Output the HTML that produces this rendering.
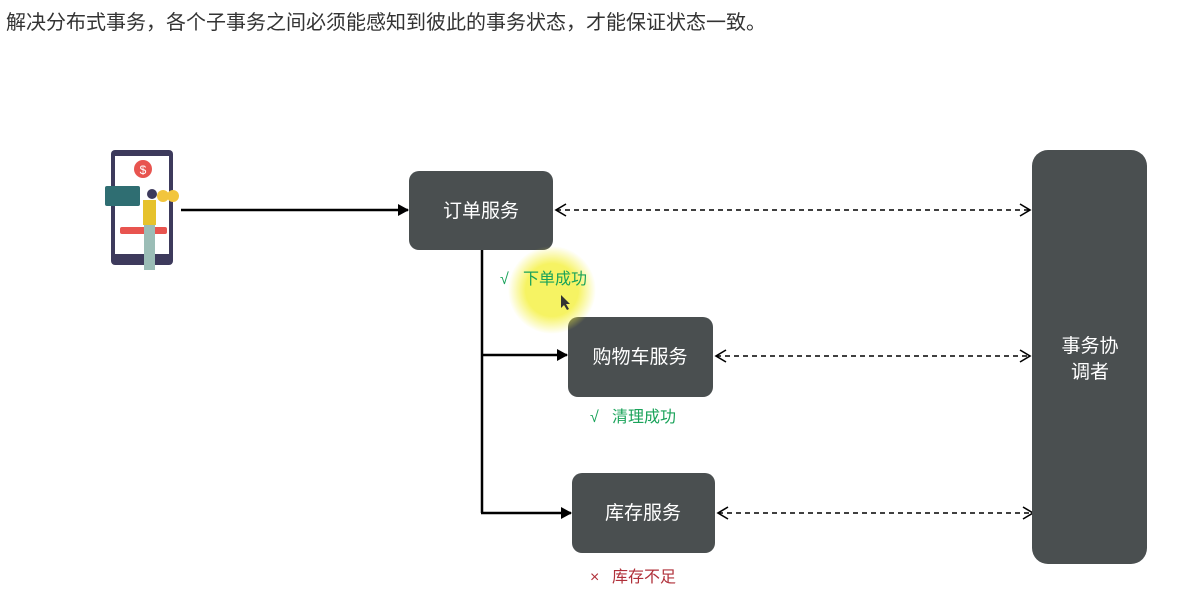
<!DOCTYPE html>
<html><head><meta charset="utf-8"><style>
body{margin:0;width:1177px;height:586px;background:#fff;overflow:hidden;font-family:"Liberation Sans","Noto Sans CJK SC",sans-serif}
</style></head><body>
<svg width="1177" height="586" xmlns="http://www.w3.org/2000/svg" style="font-family:'Liberation Sans','Noto Sans CJK SC',sans-serif">
<defs>
<marker id="a" markerWidth="12" markerHeight="12" refX="10" refY="6" orient="auto" markerUnits="userSpaceOnUse"><path d="M0,0 L11,6 L0,12 z" fill="#000"/></marker>
<marker id="o" markerWidth="14" markerHeight="14" refX="12" refY="7" orient="auto-start-reverse" markerUnits="userSpaceOnUse"><path d="M2,1 L12,7 L2,13" fill="none" stroke="#000" stroke-width="1.6"/></marker>
<radialGradient id="g"><stop offset="0.6" stop-color="#f4f03c" stop-opacity="0.8"/><stop offset="1" stop-color="#f4f03c" stop-opacity="0"/></radialGradient>
</defs>
<text x="6" y="29" font-size="20" fill="#333">解决分布式事务，各个子事务之间必须能感知到彼此的事务状态，才能保证状态一致。</text>
<!-- phone -->
<rect x="111" y="150" width="62" height="115" rx="4" fill="#3d3a5c"/>
<rect x="115" y="156" width="54" height="98" fill="#fff"/>
<circle cx="143" cy="169" r="9" fill="#e8544f"/>
<text x="143" y="174" font-size="12" fill="#fff" text-anchor="middle">$</text>
<rect x="105" y="186" width="35" height="20" rx="2" fill="#2f6e72"/>
<rect x="120" y="227" width="47" height="7" rx="2" fill="#e8544f"/>
<circle cx="163" cy="196" r="6" fill="#f2c53d"/><circle cx="173" cy="196" r="6" fill="#f2c53d"/>
<rect x="143" y="200" width="13" height="25" fill="#e6c22c"/>
<rect x="144" y="225" width="11" height="45" fill="#9bbdb6"/>
<circle cx="152" cy="194" r="5" fill="#3d3a5c"/>
<!-- arrows -->
<line x1="181" y1="210" x2="408" y2="210" stroke="#000" stroke-width="2.5" marker-end="url(#a)"/>
<polyline points="482,250 482,513" fill="none" stroke="#000" stroke-width="2.5"/>
<line x1="481" y1="355" x2="567" y2="355" stroke="#000" stroke-width="2.5" marker-end="url(#a)"/>
<line x1="481" y1="513" x2="571" y2="513" stroke="#000" stroke-width="2.5" marker-end="url(#a)"/>
<g stroke="#000" stroke-width="1.6" stroke-dasharray="5,4" fill="none">
<line x1="556" y1="210" x2="1030" y2="210" marker-start="url(#o)" marker-end="url(#o)"/>
<line x1="716" y1="356" x2="1030" y2="356" marker-start="url(#o)" marker-end="url(#o)"/>
<line x1="718" y1="513" x2="1033" y2="513" marker-start="url(#o)" marker-end="url(#o)"/>
</g>
<!-- boxes -->
<g fill="#4a4f50">
<rect x="409" y="171" width="144" height="79" rx="10"/>
<rect x="568" y="317" width="145" height="80" rx="10"/>
<rect x="572" y="473" width="143" height="80" rx="10"/>
<rect x="1032" y="150" width="115" height="414" rx="16"/>
</g>
<g fill="#fff" font-size="19" text-anchor="middle">
<text x="481" y="217">订单服务</text>
<text x="640" y="363">购物车服务</text>
<text x="643" y="519">库存服务</text>
<text x="1090" y="352">事务协</text>
<text x="1090" y="378">调者</text>
</g>
<circle cx="552" cy="290" r="44" fill="url(#g)"/>
<text x="500" y="284" font-size="16" fill="#1aa35a">√</text><text x="523" y="284" font-size="16" fill="#1aa35a">下单成功</text>
<text x="590" y="422" font-size="16" fill="#1aa35a">√</text><text x="612" y="422" font-size="16" fill="#1aa35a">清理成功</text>
<text x="590" y="582" font-size="16" fill="#b0303a">×</text><text x="612" y="582" font-size="16" fill="#b0303a">库存不足</text>
<path d="M561,295 l0,13 l3,-3 l3,5 l2,-1 l-3,-5 l4,0 z" fill="#333"/>
</svg>
</body></html>
